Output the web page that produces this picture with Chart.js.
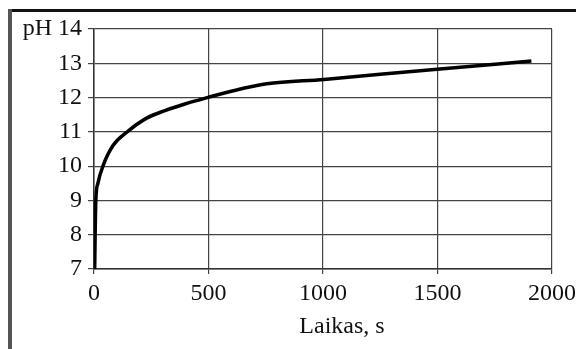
<!DOCTYPE html>
<html>
<head>
<meta charset="utf-8">
<script src="https://cdn.jsdelivr.net/npm/chart.js@4"></script>
<style>
  html, body { margin: 0; padding: 0; background: #fff; }
  #wrap { position: relative; width: 576px; height: 349px; overflow: hidden; }
  #frameTop { position: absolute; left: 8px; top: 9px; width: 568px; height: 3px; background: #111; }
  #frameLeft { position: absolute; left: 8px; top: 9px; width: 4px; height: 340px; background: #555; }
  canvas { position: absolute; left: 0; top: 0; }
</style>
</head>
<body>
<div id="wrap">
  <div id="frameTop"></div>
  <div id="frameLeft"></div>
  <canvas id="c" width="576" height="349"></canvas>
</div>
<script>
// Time (s) and measured pH
const timeSec = [3, 5, 8, 17, 39, 83, 145, 230, 310, 400, 495, 608, 754, 1004, 1250, 1511, 1910];
const phValues = [7.0, 8.0, 9.0, 9.5, 10.0, 10.6, 11.0, 11.4, 11.62, 11.82, 12.0, 12.2, 12.4, 12.53, 12.68, 12.83, 13.07];

const xTicks = [0, 500, 1000, 1500, 2000];
const yTicks = [7, 8, 9, 10, 11, 12, 13, 14];
const yUnit = 'pH';
const xTitle = 'Laikas, s';

const points = timeSec.map((t, i) => ({ x: t, y: phValues[i] }));
const serif = "'Liberation Serif', 'Times New Roman', serif";

const xTitlePlugin = {
  id: 'xTitle',
  afterDraw(chart) {
    const ctx = chart.ctx;
    ctx.save();
    ctx.font = '24px ' + serif;
    ctx.fillStyle = '#111';
    ctx.textAlign = 'center';
    ctx.textBaseline = 'middle';
    ctx.fillText(xTitle, 342, 327);
    ctx.restore();
  }
};

new Chart(document.getElementById('c'), {
  type: 'line',
  data: {
    datasets: [{
      data: points,
      borderColor: '#000',
      borderWidth: 3.5,
      pointRadius: 0,
      fill: false,
      cubicInterpolationMode: 'monotone'
    }]
  },
  options: {
    responsive: false,
    animation: false,
    layout: { padding: { left: 0, top: 29, right: 24, bottom: 0 } },
    plugins: { legend: { display: false }, tooltip: { enabled: false } },
    scales: {
      x: {
        type: 'linear',
        min: 0, max: 2000,
        afterBuildTicks(scale) { scale.ticks = xTicks.map(v => ({ value: v })); },
        afterFit(scale) { scale.height = 80; scale.paddingRight = 0; scale.paddingLeft = 0; },
        border: { display: true, color: '#333', width: 1.5 },
        grid: { color: '#444', lineWidth: 1.2, tickLength: 5, drawTicks: true },
        ticks: {
          color: '#111',
          font: { family: serif, size: 24 },
          padding: 5,
          maxRotation: 0,
          autoSkip: false,
          callback: v => String(v)
        }
      },
      y: {
        min: 7, max: 14,
        afterBuildTicks(scale) { scale.ticks = yTicks.map(v => ({ value: v })); },
        afterFit(scale) { scale.width = 94; scale.paddingTop = 0; scale.paddingBottom = 0; },
        border: { display: true, color: '#333', width: 1.5 },
        grid: { color: '#444', lineWidth: 1.2, tickLength: 6, drawTicks: true },
        ticks: {
          color: '#111',
          font: { family: serif, size: 24 },
          padding: 6,
          autoSkip: false,
          callback: v => v === 14 ? yUnit + ' ' + v : String(v)
        }
      }
    }
  },
  plugins: [xTitlePlugin]
});
</script>
</body>
</html>
